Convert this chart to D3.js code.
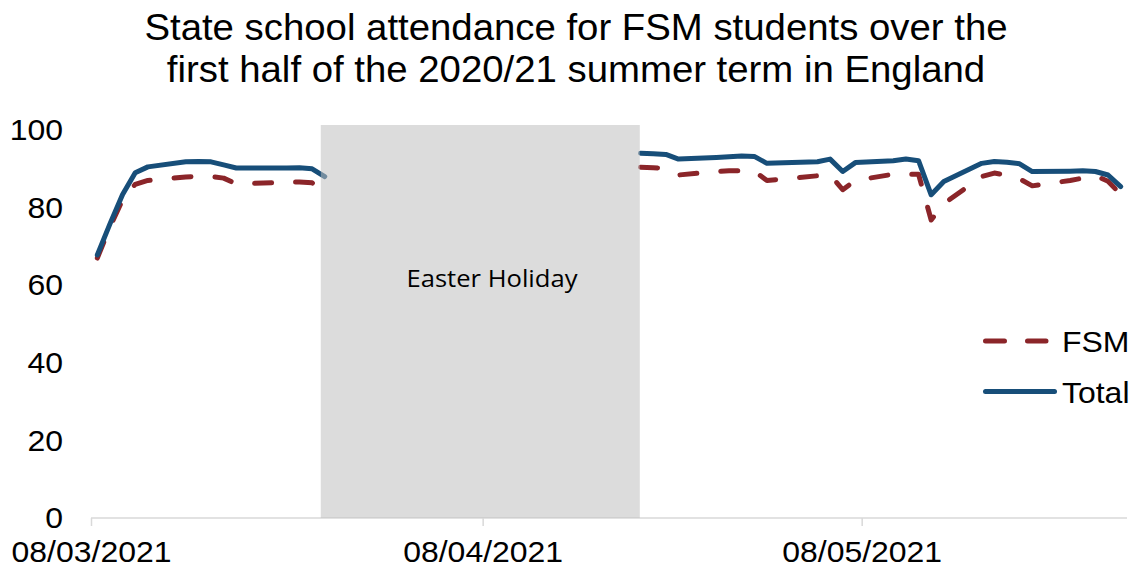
<!DOCTYPE html>
<html>
<head>
<meta charset="utf-8">
<script src="https://cdn.jsdelivr.net/npm/d3@7"></script>
<style>
  html, body { margin: 0; padding: 0; background: #fff; }
  svg { display: block; }
  text { font-family: "Liberation Sans", Arial, sans-serif; fill: #000; }
</style>
</head>
<body>
<svg id="chart" width="1133" height="567"></svg>
<script>
// ---- data ----
const titleLines = [
  "State school attendance for FSM students over the",
  "first half of the 2020/21 summer term in England"
];
const dates = [
  "2021-03-08","2021-03-09","2021-03-10","2021-03-11","2021-03-12",
  "2021-03-15","2021-03-16","2021-03-17","2021-03-18","2021-03-19",
  "2021-03-22","2021-03-23","2021-03-24","2021-03-25","2021-03-26",
  "2021-04-20","2021-04-21","2021-04-22","2021-04-23",
  "2021-04-26","2021-04-27","2021-04-28","2021-04-29","2021-04-30",
  "2021-05-04","2021-05-05","2021-05-06","2021-05-07",
  "2021-05-10","2021-05-11","2021-05-12","2021-05-13","2021-05-14",
  "2021-05-17","2021-05-18","2021-05-19","2021-05-20","2021-05-21",
  "2021-05-24","2021-05-25","2021-05-26","2021-05-27","2021-05-28"
];
const fsmValues = [
  67.0, 75.0, 82.0, 86.0, 87.0,
  87.9, 88.0, 88.0, 87.6, 86.1,
  86.4, 86.6, 86.6, 86.4, 83.5,
  90.4, 90.3, 90.1, 88.4,
  89.3, 89.5, 89.5, 89.4, 87.0,
  88.2, 88.5, 84.6, 87.0,
  88.6, 88.6, 88.6, 76.8, 81.0,
  88.0, 88.9, 88.3, 87.4, 85.6,
  87.0, 87.6, 88.2, 86.8, 83.4
];
const totalValues = [
  67.8, 75.8, 83.4, 89.0, 90.5,
  91.8, 91.9, 91.8, 91.0, 90.2,
  90.2, 90.2, 90.3, 90.0, 88.0,
  94.0, 93.9, 93.7, 92.5,
  92.9, 93.1, 93.3, 93.2, 91.4,
  91.8, 92.5, 89.3, 91.6,
  92.1, 92.5, 92.1, 83.3, 86.7,
  91.4, 91.9, 91.7, 91.3, 89.3,
  89.4, 89.5, 89.3, 88.4, 85.4
];
const xTickDates = ["2021-03-08", "2021-04-08", "2021-05-08"];
const xTickLabels = ["08/03/2021", "08/04/2021", "08/05/2021"];
const yTicks = [0, 20, 40, 60, 80, 100];
const holidayRange = ["2021-03-26T04:30", "2021-04-20T10:30"];
const holidayLabel = "Easter Holiday";
const seriesNames = ["FSM", "Total"];

// ---- setup ----
const svg = d3.select("#chart");
const parseDay = d => new Date(d + "T12:00:00");
const parseDT = d => new Date(d + ":00");
const parseTick = d => new Date(d + "T00:00:00");
const STRETCH = 1.065;
function stretch(sel) {
  sel.each(function () {
    const w = this.getComputedTextLength();
    d3.select(this).attr("textLength", w * STRETCH).attr("lengthAdjust", "spacingAndGlyphs");
  });
}

const x = d3.scaleTime()
  .domain([parseTick("2021-03-08"), parseTick("2021-05-29")])
  .range([91, 1127]);
const y = d3.scaleLinear().domain([0, 100]).range([518, 130]);

const hStart = parseDT(holidayRange[0]);
const hEnd = parseDT(holidayRange[1]);
const hMid = new Date((hStart.getTime() + hEnd.getTime()) / 2);

const rows = dates.map((d, i) => ({ date: parseDay(d), fsm: fsmValues[i], total: totalValues[i] }));
const segments = [rows.filter(r => r.date < hMid), rows.filter(r => r.date > hMid)];

// title
svg.append("g").selectAll("text").data(titleLines).join("text")
  .attr("x", 576).attr("y", (d, i) => 39.5 + i * 42)
  .attr("text-anchor", "middle")
  .style("font-size", "36px")
  .text(d => d)
  .call(stretch);

// x axis line
svg.append("line")
  .attr("x1", x.range()[0]).attr("x2", x.range()[1])
  .attr("y1", y(0)).attr("y2", y(0))
  .attr("stroke", "#d9d9d9").attr("stroke-width", 1.5);

// x ticks
const xAxis = d3.axisBottom(x)
  .tickValues(xTickDates.map(parseTick))
  .tickFormat((d, i) => xTickLabels[i])
  .tickSize(8).tickPadding(15);
const gx = svg.append("g").attr("transform", `translate(0,${y(0)})`).call(xAxis);
gx.select(".domain").remove();
gx.selectAll(".tick line").attr("stroke", "#d9d9d9").attr("stroke-width", 1.5);
gx.selectAll(".tick text").style("font-size", "30px")
  .style("font-family", "'Liberation Sans', Arial, sans-serif").attr("fill", "#000")
  .call(stretch);

// y ticks
const yAxis = d3.axisLeft(y).tickValues(yTicks).tickSize(0).tickPadding(0);
const gy = svg.append("g").attr("transform", "translate(63,0)").call(yAxis);
gy.select(".domain").remove();
gy.selectAll(".tick text").style("font-size", "30px")
  .style("font-family", "'Liberation Sans', Arial, sans-serif").attr("fill", "#000")
  .call(stretch);

// lines
const lineF = d3.line().x(d => x(d.date)).y(d => y(d.fsm));
const lineT = d3.line().x(d => x(d.date)).y(d => y(d.total));

const fsmColor = "#8B2529";
const totColor = "#174E79";

segments.forEach(seg => {
  svg.append("path").datum(seg).attr("d", lineF)
    .attr("fill", "none").attr("stroke", fsmColor).attr("stroke-width", 5)
    .attr("stroke-linecap", "round").attr("stroke-linejoin", "round")
    .attr("stroke-dasharray", "17,24");
});
segments.forEach(seg => {
  svg.append("path").datum(seg).attr("d", lineT)
    .attr("fill", "none").attr("stroke", totColor).attr("stroke-width", 5)
    .attr("stroke-linecap", "round").attr("stroke-linejoin", "round");
});

// holiday shading
svg.append("rect")
  .attr("x", x(hStart)).attr("width", x(hEnd) - x(hStart))
  .attr("y", 125).attr("height", y(0) - 125)
  .attr("fill", "#bfbfbf").attr("fill-opacity", 0.55);

svg.append("text")
  .attr("x", 492).attr("y", 287)
  .attr("text-anchor", "middle")
  .style("font-family", "'Open Sans', 'Noto Sans', sans-serif")
  .style("font-size", "24px")
  .text(holidayLabel)
  .call(stretch);

// legend
const lg = svg.append("g");
lg.append("line").attr("x1", 985.5).attr("x2", 1046).attr("y1", 341).attr("y2", 341)
  .attr("stroke", fsmColor).attr("stroke-width", 5).attr("stroke-linecap", "round")
  .attr("stroke-dasharray", "19,23");
lg.append("line").attr("x1", 985.5).attr("x2", 1054.5).attr("y1", 391.5).attr("y2", 391.5)
  .attr("stroke", totColor).attr("stroke-width", 5).attr("stroke-linecap", "round");
lg.selectAll("text").data(seriesNames).join("text")
  .attr("x", 1062).attr("y", (d, i) => 352 + i * 50.5)
  .style("font-size", "30px")
  .text(d => d)
  .call(stretch);
</script>
</body>
</html>
